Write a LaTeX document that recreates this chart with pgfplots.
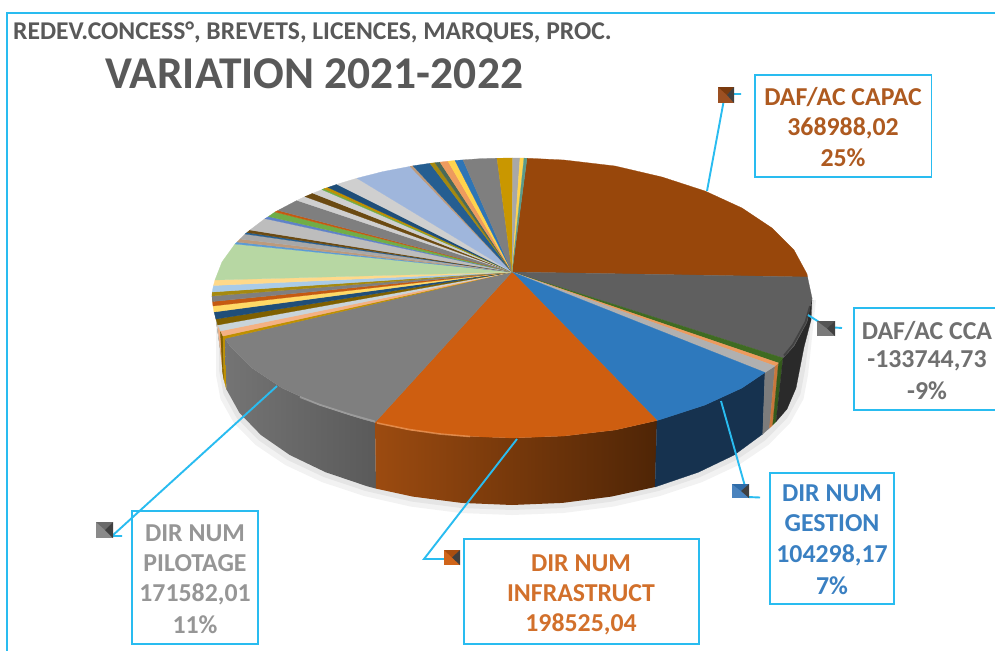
\documentclass[border=0pt]{standalone}
\usepackage{fontspec}
\setmainfont{Carlito}
\usepackage{pgfplots}
\pgfplotsset{compat=1.18}
% palette
\definecolor{frameB}{HTML}{29BCF0}
\definecolor{brownS}{HTML}{98470B}
\definecolor{dgray}{HTML}{5F5F5F}
\definecolor{dgreen}{HTML}{3F6B22}
\definecolor{peach}{HTML}{ED9B5E}
\definecolor{lgray}{HTML}{B0B0B0}
\definecolor{blueA}{HTML}{2E79BD}
\definecolor{orangeA}{HTML}{CE5E10}
\definecolor{grayA}{HTML}{7F7F7F}
\definecolor{goldA}{HTML}{BF9000}
\definecolor{peachL}{HTML}{F4B183}
\definecolor{pale}{HTML}{C9D4DA}
\definecolor{brownD}{HTML}{7F6000}
\definecolor{navy}{HTML}{1F4E79}
\definecolor{yell}{HTML}{FFD966}
\definecolor{rust}{HTML}{C55A11}
\definecolor{olive2}{HTML}{A5890F}
\definecolor{skyL}{HTML}{A9CBE8}
\definecolor{peachY}{HTML}{FFD98A}
\definecolor{greenL}{HTML}{B7D7A3}
\definecolor{blueM}{HTML}{5B9BD5}
\definecolor{tan2}{HTML}{BD9A7B}
\definecolor{gray2}{HTML}{A8A8A8}
\definecolor{navy2}{HTML}{255E91}
\definecolor{brownK}{HTML}{6B4A12}
\definecolor{lgray2}{HTML}{BDBDBD}
\definecolor{blueP}{HTML}{5F82C8}
\definecolor{greenM}{HTML}{70AD47}
\definecolor{lgray3}{HTML}{CFCFCF}
\definecolor{blueQ}{HTML}{9FB6DC}
\definecolor{teal2}{HTML}{5A9A8A}
\definecolor{gold2}{HTML}{C99700}
\definecolor{dkgn}{HTML}{4A6A58}
\definecolor{yel2}{HTML}{FFD34D}
\definecolor{blue2}{HTML}{2E75B6}
\definecolor{txtG}{HTML}{595959}
\definecolor{txtBr}{HTML}{AE5A20}
\definecolor{txtCC}{HTML}{707070}
\definecolor{txtBl}{HTML}{3A80C2}
\definecolor{txtOr}{HTML}{D2702B}
\definecolor{txtPi}{HTML}{969696}
\definecolor{sideGa}{HTML}{747474}
\definecolor{sideGb}{HTML}{5A5A5A}
\definecolor{sideOa}{HTML}{9C4B10}
\definecolor{sideOb}{HTML}{4F2506}
\definecolor{sideB}{HTML}{16324F}
\definecolor{sideK}{HTML}{2A2A2A}
\definecolor{sideS}{HTML}{7C7C7C}
\definecolor{sideP}{HTML}{C8763B}
\definecolor{sideN}{HTML}{345A1C}
\definecolor{maA}{HTML}{9C5022}\definecolor{maB}{HTML}{7A3A0E}
\definecolor{mbA}{HTML}{7A7A7A}\definecolor{mbB}{HTML}{555555}
\definecolor{mcA}{HTML}{4A83BE}\definecolor{mcB}{HTML}{2F6CA8}
\definecolor{mdA}{HTML}{D0651A}\definecolor{mdB}{HTML}{A84E10}
\definecolor{meA}{HTML}{8A8A8A}\definecolor{meB}{HTML}{6A6A6A}
\newcommand\wdg[2]{\addplot[fill=#1,draw=#1,line width=0.25pt] coordinates {#2} --cycle;}
\newcommand\lin[1]{\addplot[draw=frameB,line width=1.9pt,line join=miter] coordinates {#1};}
\newcommand\shd[3]{\addplot[draw=none,left color=#1,right color=#2] coordinates {#3} --cycle;}
% square marker: outer square, right dark facet, top mid facet
\newcommand\mk[8]{%
  \addplot[fill=#6,draw=none] coordinates {(#1,#3)(#2,#3)(#2,#4)(#1,#4)} --cycle;
  \addplot[fill=#7,draw=none] coordinates {(#1,#3)(#2,#3)(#5,#8)} --cycle;
  \addplot[fill=black!75,draw=none] coordinates {(#2,#3)(#2,#4)(#5,#8)} --cycle;}
\newcommand\lbl[3]{\node[text=#1,font=\fontsize{25.8}{26}\selectfont\bfseries,anchor=center,inner sep=0pt] at (axis cs:#2) {#3};}
\begin{document}
\begin{tikzpicture}
\begin{axis}[scale only axis,width=995pt,height=651pt,xmin=0,xmax=995,ymin=0,ymax=651,y dir=reverse,hide axis,no markers]
% page background, so that the picture has the full 995 x 651 extent
\addplot[fill=white,draw=none] coordinates {(0,0)(995,0)(995,651)(0,651)} --cycle;
% soft shadow
\addplot[fill=black,fill opacity=0.05,draw=none] coordinates {(216,300)(216,375)(220.5,399)(233.9,423)(255.7,445)(285.3,465)(321.7,482)(364,496)(410.8,506.6)(460.6,513)(512,515)(563.4,513)(613.2,506.6)(660,496)(702.3,482)(738.7,465)(768.3,445)(790.1,423)(803.5,399)(808,375)(816,300)} --cycle;
\addplot[fill=black,fill opacity=0.05,draw=none] coordinates {(219,300)(219,370)(223.5,394)(236.7,418)(258.3,440)(287.6,460)(323.7,477)(365.5,491)(411.8,501.6)(461.1,508)(512,510)(562.9,508)(612.2,501.6)(658.5,491)(700.3,477)(736.4,460)(765.7,440)(787.3,418)(800.5,394)(805,370)(814,300)} --cycle;
% side of the pie
\wdg{brownK}{(212,296)(216,319)(221.5,358)(222,330)}
\wdg{pale}{(216,319)(217.7,325)(222,365)(221.5,358)}
\wdg{peachL}{(217.7,325)(220.4,331)(222.5,372)(222,365)}
\wdg{brownD}{(220.4,331)(223,336)(224,380)(222.5,372)}
\wdg{goldA}{(223,336)(225,338.5)(226.4,389)(224,380)}
\shd{sideGa}{sideGb}{(225,338.5)(230,346)(252,368)(282,388)(319,405)(362,419)(375,422.5)(376,488.6)(367,486.2)(325.6,472.2)(289.8,455)(260.9,435)(239.5,412.9)(226.4,389.3)}
\shd{sideOa}{sideOb}{(375,422.5)(409,430)(460,436)(512,438)(564,436)(615,430)(657,420.5)(655,487)(611.2,496.6)(562.4,502.9)(512,505)(461.6,502.9)(412.8,496.6)(376,488.6)}
\wdg{sideB}{(657,420.5)(705,405)(742,388)(765,372.5)(762.7,434)(734.2,455)(698.4,472.2)(655,487)}
\wdg{sideS}{(765,372.5)(775,366)(769.5,428)(762.7,434)}
\wdg{sideP}{(775,366)(778.5,363)(772.7,425)(769.5,428)}
\wdg{sideN}{(778.5,363)(783,358)(776,421.7)(772.7,425)}
\wdg{sideK}{(783,358)(794,346)(807,322)(812,298)(811,320)(804,347)(796,388)(787,409)(776,421.7)}
% top of the pie
\wdg{brownS}{(512,272)(527,158.2)(564,160)(615,166)(662,177)(705,191)(742,208)(772,228)(794,250)(807,274)(807.5,277)}
\wdg{dgray}{(512,272)(807.5,277)(812,298)(807,322)(794,346)(783,358)}
\wdg{dgreen}{(512,272)(783,358)(778.5,363)}
\wdg{peach}{(512,272)(778.5,363)(775,366)}
\wdg{lgray}{(512,272)(775,366)(765,372.5)}
\wdg{blueA}{(512,272)(765,372.5)(742,388)(705,405)(662,419)(657,420.5)}
\wdg{orangeA}{(512,272)(657,420.5)(615,430)(564,436)(512,438)(460,436)(409,430)(375,422.5)}
\wdg{grayA}{(512,272)(375,422.5)(362,419)(319,405)(282,388)(252,368)(230,346)(225,338.5)}
\wdg{goldA}{(512,272)(225,338.5)(223,336)}
\wdg{peachL}{(512,272)(223,336)(220.4,331)}
\wdg{pale}{(512,272)(220.4,331)(217.7,325)}
\wdg{brownD}{(512,272)(217.7,325)(216,319)}
\wdg{navy}{(512,272)(216,319)(214,312)}
\wdg{yell}{(512,272)(214,312)(213,306)}
\wdg{rust}{(512,272)(213,306)(212.5,301.5)}
\wdg{grayA}{(512,272)(212.5,301.5)(212,296)}
\wdg{olive2}{(512,272)(212,296)(212.2,292)}
\wdg{skyL}{(512,272)(212.2,292)(213.5,285.5)}
\wdg{peachY}{(512,272)(213.5,285.5)(215,280)}
\wdg{greenL}{(512,272)(215,280)(222,262)(235,244)}
\wdg{blueM}{(512,272)(235,244)(237,242)}
\wdg{tan2}{(512,272)(237,242)(240,239)}
\wdg{gray2}{(512,272)(240,239)(245,234)}
\wdg{navy2}{(512,272)(245,234)(247,232.5)}
\wdg{brownK}{(512,272)(247,232.5)(250,230)}
\wdg{lgray2}{(512,272)(250,230)(265,218.6)}
\wdg{blueP}{(512,272)(265,218.6)(268.5,216.5)}
\wdg{greenM}{(512,272)(268.5,216.5)(275,212)}
\wdg{rust}{(512,272)(275,212)(278,210.4)}
\wdg{grayA}{(512,272)(278,210.4)(297,200.4)}
\wdg{lgray3}{(512,272)(297,200.4)(305,196.6)}
\wdg{brownK}{(512,272)(305,196.6)(313,193.2)}
\wdg{lgray3}{(512,272)(313,193.2)(322,189.6)}
\wdg{greenM}{(512,272)(322,189.6)(324,188.7)}
\wdg{goldA}{(512,272)(324,188.7)(328,187.4)}
\wdg{navy}{(512,272)(328,187.4)(337,184.3)}
\wdg{lgray3}{(512,272)(337,184.3)(357,178.2)}
\wdg{blueQ}{(512,272)(357,178.2)(383,171.6)(410,166.4)}
\wdg{tan2}{(512,272)(410,166.4)(413,165.8)}
\wdg{navy2}{(512,272)(413,165.8)(430,163.3)}
\wdg{olive2}{(512,272)(430,163.3)(435,162.7)}
\wdg{dkgn}{(512,272)(435,162.7)(440,162.1)}
\wdg{peach}{(512,272)(440,162.1)(448,161.2)}
\wdg{yel2}{(512,272)(448,161.2)(455,160.5)}
\wdg{blue2}{(512,272)(455,160.5)(463,159.9)}
\wdg{grayA}{(512,272)(463,159.9)(480,158.7)(497,158.2)}
\wdg{gold2}{(512,272)(497,158.2)(512.7,158)}
\wdg{gray2}{(512,272)(512.7,158)(520,158)}
\wdg{yel2}{(512,272)(520,158)(524,158.1)}
\wdg{teal2}{(512,272)(524,158.1)(527,158.2)}
% bevel highlights
\addplot[draw=gray2,line width=1.8pt,draw opacity=0.7] coordinates {(300,397)(319,404.5)(350,414.5)(375,421.5)};
\addplot[draw=peach,line width=1.6pt,draw opacity=0.7] coordinates {(377,423)(409,429.5)(440,434)(470,436.5)};
\addplot[draw=black,draw opacity=0.3,line width=1.8pt] coordinates {(810,306)(805.5,322)(793,344.5)(784,355.5)};
% frame
\lin{(995,13)(7,13)(7,651)}
% leaders
\lin{(707,191)(725,94)(741,94)}
\lin{(808,315)(827,327)(842,328)}
\lin{(721,401)(748,497)(760,497.5)}
\lin{(517,439)(424,559)(444,559)}
\lin{(277,386)(112,536)(122,536)}
% label boxes
\lin{(755,75)(931.5,75)(931.5,177)(755,177)(755,75)(931.5,75)}
\lin{(995,308)(854,308)(854,410)(995,410)}
\lin{(770,473)(894,473)(894,604)(770,604)(770,473)(894,473)}
\lin{(464,539)(699,539)(699,644)(464,644)(464,539)(699,539)}
\lin{(132,511)(258,511)(258,644)(132,644)(132,511)(258,511)}
% pyramid keys
\mk{718}{734}{87}{103}{727}{maA}{maB}{95}
\mk{817}{835}{321}{336}{827}{mbA}{mbB}{328.5}
\mk{732}{749}{484}{498}{741}{mcA}{mcB}{491}
\mk{444}{460}{550}{565}{452}{mdA}{mdB}{557.5}
\mk{96}{113}{522}{538}{105}{meA}{meB}{530}
% text
\node[text=txtG,font=\fontsize{25.6}{26}\selectfont\bfseries,anchor=base west,inner sep=0pt] at (axis cs:13,39) {REDEV.CONCESS°, BREVETS, LICENCES, MARQUES, PROC.};
\node[text=txtG,font=\fontsize{45.5}{46}\selectfont\bfseries,anchor=base west,inner sep=0pt] at (axis cs:105,88) {VARIATION 2021-2022};
\lbl{txtBr}{843,97}{DAF/AC CAPAC}
\lbl{txtBr}{843,128}{368988,02}
\lbl{txtBr}{843,158}{25\%}
\lbl{txtCC}{927,331}{DAF/AC CCA}
\lbl{txtCC}{927,361}{-133744,73}
\lbl{txtCC}{927,391}{-9\%}
\lbl{txtBl}{832,493}{DIR NUM}
\lbl{txtBl}{832,523}{GESTION}
\lbl{txtBl}{832,555}{104298,17}
\lbl{txtBl}{832,586}{7\%}
\lbl{txtOr}{581,563}{DIR NUM}
\lbl{txtOr}{581,593}{INFRASTRUCT}
\lbl{txtOr}{581,624}{198525,04}
\lbl{txtPi}{195,533}{DIR NUM}
\lbl{txtPi}{195,563}{PILOTAGE}
\lbl{txtPi}{195,594}{171582,01}
\lbl{txtPi}{195,625}{11\%}
\end{axis}
\end{tikzpicture}
\end{document}
